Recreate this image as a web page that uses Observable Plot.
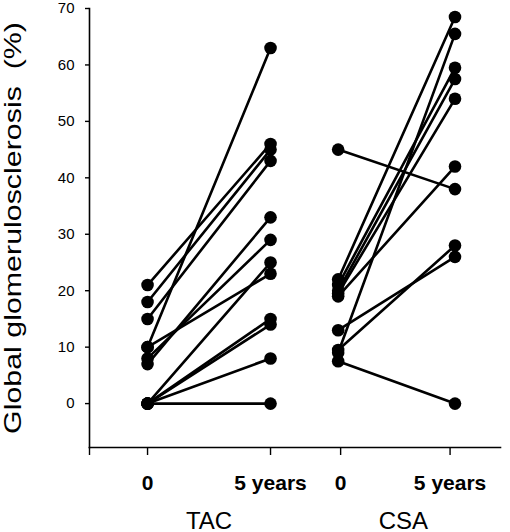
<!DOCTYPE html>
<html>
<head>
<meta charset="utf-8">
<script src="https://cdn.jsdelivr.net/npm/d3@7"></script>
<script src="https://cdn.jsdelivr.net/npm/@observablehq/plot@0.6"></script>
<style>
  html, body { margin: 0; padding: 0; background: #fff; }
  #chart svg { display: block; overflow: visible; }
</style>
</head>
<body>
<div id="chart"></div>
<script>
// ---- data ----
const groups = ["TAC", "CSA"];
const timepointLabels = ["0", "5 years", "0", "5 years"];
const yTicks = [0, 10, 20, 30, 40, 50, 60, 70];
const yLabel = "Global glomerulosclerosis  (%)";

// paired observations (baseline -> 5 years), one pair per patient
const tacBaseline  = [21, 18, 15, 10, 10, 8, 7, 0, 0, 0, 0, 0];
const tacFiveYears = [46, 45, 43, 63, 23, 29, 33, 25, 15, 14, 8, 0];
const csaBaseline  = [45, 22, 21, 20, 19.5, 19, 13, 9.5, 9, 7.5];
const csaFiveYears = [38, 68.5, 59.5, 57.5, 54, 42, 26, 28, 65.5, 0];

// horizontal layout slots for the two time points of each group
const slotTAC = [0, 5];
const slotCSA = [7.75, 12.5];
const xTicks = [0, 5, 7.85, 12.3];
const groupCenters = [2.5, 10.4];
const xDomain = [-2.36, 14.35];
const yDomain = [-7.78, 70];

// ---- build rows ----
const rows = [];
function addGroup(name, base, five, slot) {
  base.forEach((b, i) => {
    rows.push({group: name, id: name + i, x: slot[0], value: b});
    rows.push({group: name, id: name + i, x: slot[1], value: five[i]});
  });
}
addGroup("TAC", tacBaseline, tacFiveYears, slotTAC);
addGroup("CSA", csaBaseline, csaFiveYears, slotCSA);

const font = "'Liberation Sans', Arial, Helvetica, sans-serif";

const chart = Plot.plot({
  width: 510,
  height: 532,
  marginLeft: 89,
  marginRight: 10,
  marginTop: 8,
  marginBottom: 85,
  style: {fontFamily: font, color: "#000", background: "#fff"},
  x: {domain: xDomain, axis: null},
  y: {domain: yDomain, axis: null},
  marks: [
    Plot.frame({anchor: "left", stroke: "#000", strokeWidth: 1.6}),
    Plot.frame({anchor: "bottom", stroke: "#000", strokeWidth: 1.6}),
    Plot.axisY(yTicks, {
      tickSize: 4, tickPadding: 11, fontSize: 15, label: null,
      stroke: "#000", strokeWidth: 1.4
    }),
    Plot.axisX([xDomain[0], ...xTicks], {
      tickSize: 8, tickPadding: 20, fontSize: 21, fontWeight: "bold", label: null,
      tickFormat: (d, i) => i === 0 ? "" : timepointLabels[i - 1],
      stroke: "#000", strokeWidth: 1.4
    }),
    Plot.axisX(groupCenters, {
      tickSize: 0, tickPadding: 64, fontSize: 24, label: null,
      tickFormat: (d, i) => groups[i]
    }),
    Plot.text([yLabel], {
      frameAnchor: "left", textAnchor: "middle", rotate: -90, dx: -76, fontSize: 24,
      fill: "#000", className: "ylabel"
    }),
    Plot.line(rows, {x: "x", y: "value", z: "id", stroke: "#000", strokeWidth: 2.6}),
    Plot.dot(rows, {x: "x", y: "value", r: 6.3, fill: "#000", stroke: "none"})
  ]
});

d3.select(chart).selectAll(".ylabel text")
  .attr("textLength", 412)
  .attr("lengthAdjust", "spacingAndGlyphs");

document.getElementById("chart").appendChild(chart);
</script>
</body>
</html>
